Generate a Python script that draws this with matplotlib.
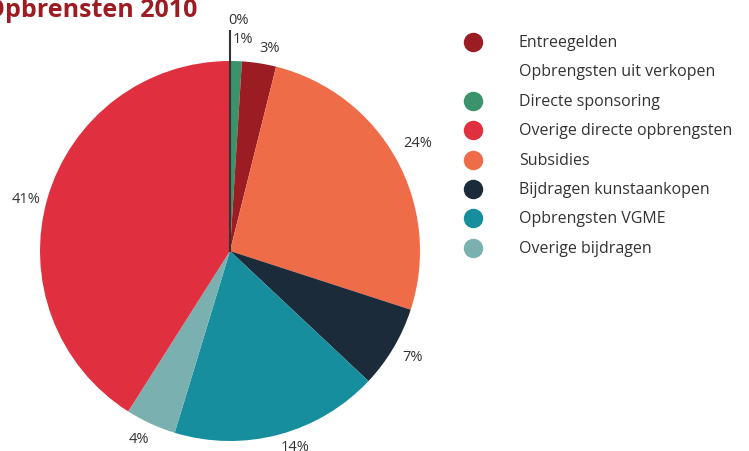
import numpy as np
import matplotlib
matplotlib.use('Agg')
import matplotlib.pyplot as plt

plt.rcParams['font.family'] = ['Open Sans', 'DejaVu Sans']

# slices, clockwise from the top
slices = ['Opbrengsten uit verkopen', 'Directe sponsoring', 'Entreegelden', 'Subsidies',
          'Bijdragen kunstaankopen', 'Opbrengsten VGME', 'Overige bijdragen',
          'Overige directe opbrengsten']
sizes = [0, 1, 2.9, 26.1, 7, 17.7, 4.3, 41]
pct_labels = ['0%', '1%', '3%', '24%', '7%', '14%', '4%', '41%']
# where each label sits: angle (deg, clockwise from top) and distance in radii
label_hoek = [2, 3.5, 11, 59.8, 120, 161.7, 206, 284.5]
label_afst = [1.22, 1.12, 1.09, 1.14, 1.11, 1.085, 1.10, 1.11]

kleur = {'Entreegelden': '#9b1c23', 'Opbrengsten uit verkopen': 'none',
         'Directe sponsoring': '#3a936a', 'Overige directe opbrengsten': '#e02f3f',
         'Subsidies': '#ef6c48', 'Bijdragen kunstaankopen': '#1b2b3a',
         'Opbrengsten VGME': '#178e9e', 'Overige bijdragen': '#7bb0b0'}

legenda = ['Entreegelden', 'Opbrengsten uit verkopen', 'Directe sponsoring',
           'Overige directe opbrengsten', 'Subsidies', 'Bijdragen kunstaankopen',
           'Opbrengsten VGME', 'Overige bijdragen']

W, H = 749, 452
cx, cy, R = 230, 252, 190

fig = plt.figure(figsize=(W/100, H/100), dpi=100)
ax = fig.add_axes([0, 0, 1, 1])
wedges, texts = ax.pie(sizes, colors=[kleur[s] if kleur[s] != 'none' else '#ffffff' for s in slices],
                       labels=pct_labels, startangle=90, counterclock=False, radius=1,
                       textprops=dict(fontsize=10.5, color='#333333'))
for t, a, r in zip(texts, label_hoek, label_afst):
    t.set_ha('center')
    t.set_va('center')
    t.set_position((r*np.sin(np.radians(a)), r*np.cos(np.radians(a))))
ax.plot([0, 0], [0, 1.16], color='#333333', lw=1.5)

ax.set_xlim(-cx/R, (W-cx)/R)
ax.set_ylim(-(H-cy)/R, cy/R)
ax.set_aspect('auto')
ax.axis('off')

# titel (links afgesneden)
fig.text(197/W, 1-17/H, 'Opbrensten 2010', ha='right', va='baseline',
         fontsize=18, fontweight='bold', color='#9b1c23')

# legenda
lax = fig.add_axes([0, 0, 1, 1])
lax.set_xlim(0, W)
lax.set_ylim(H, 0)
lax.axis('off')
for i, naam in enumerate(legenda):
    y = 43 + i*29.4
    if kleur[naam] != 'none':
        lax.scatter([473], [y], s=196, color=kleur[naam], lw=0)
    lax.text(519, y, naam, va='center', ha='left', fontsize=11.5, color='#333333')

fig.savefig('out.png', dpi=100)
